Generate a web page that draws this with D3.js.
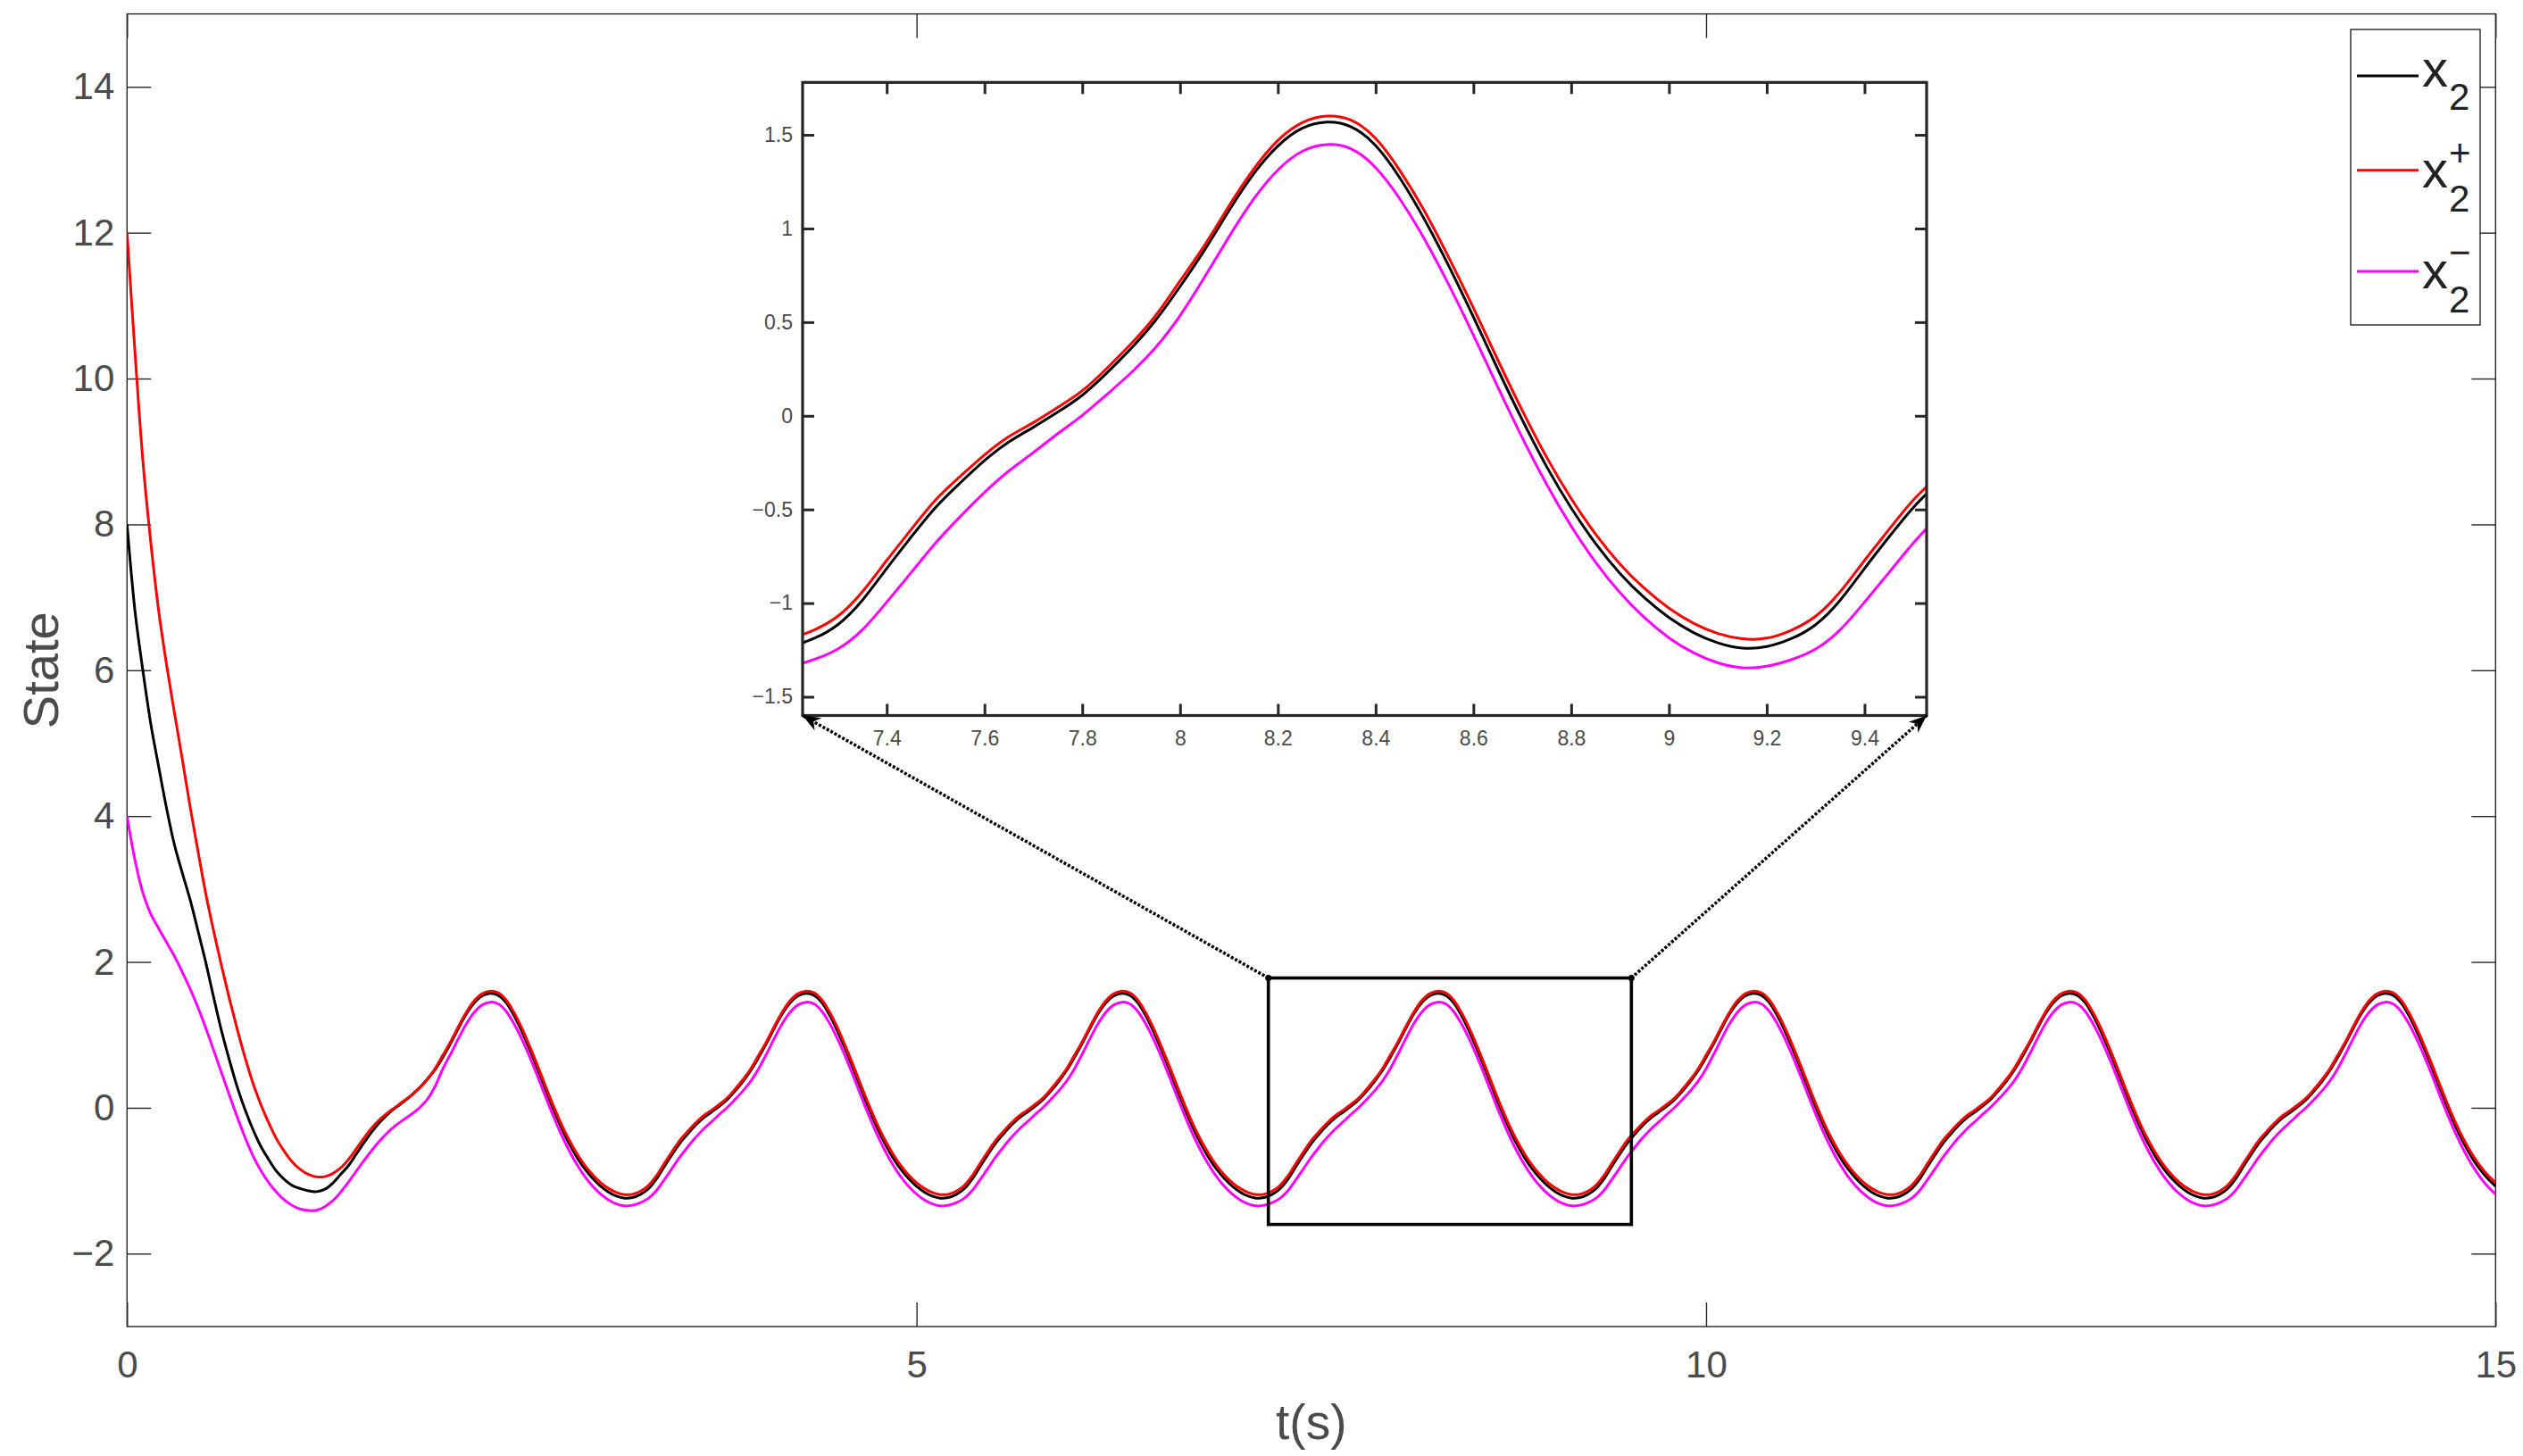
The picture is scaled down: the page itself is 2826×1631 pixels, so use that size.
<!DOCTYPE html>
<html>
<head>
<meta charset="utf-8">
<script src="https://cdn.jsdelivr.net/npm/d3@7"></script>
<style>
  body { margin: 0; background: #ffffff; }
  svg { display: block; }
  text { font-family: "Liberation Sans", Arial, Helvetica, sans-serif; }
</style>
</head>
<body>
<svg id="chart" width="2826" height="1631"></svg>
<script>
// ---------------- DATA ----------------
// sample spacing of the series below (s), starting at t = 0
const sampleStep = 0.05;

// x2 (black)
const x2 = [
  8.0, 6.82, 6.0, 5.27, 4.68, 4.11, 3.61, 3.22, 2.85, 2.42, 1.98, 1.50, 1.04, 0.64, 0.27, -0.04, -0.31, -0.54, -0.72, -0.88,
  -0.99, -1.07, -1.11, -1.14, -1.15, -1.12, -1.04, -0.92, -0.80, -0.64, -0.48, -0.33, -0.20, -0.09, 0.00, 0.08, 0.17, 0.27, 0.39, 0.52,
  0.69, 0.885, 1.095, 1.29, 1.44, 1.535, 1.568, 1.543, 1.443, 1.268, 1.048, 0.798, 0.528, 0.248, -0.022, -0.272, -0.492, -0.682, -0.842, -0.972,
  -1.077, -1.157, -1.212, -1.24, -1.232, -1.19, -1.115, -0.985, -0.815, -0.647, -0.489, -0.359, -0.239, -0.139, -0.061, 0.02, 0.11, 0.228, 0.36, 0.51,
  0.69, 0.885, 1.095, 1.29, 1.44, 1.535, 1.568, 1.543, 1.443, 1.268, 1.048, 0.798, 0.528, 0.248, -0.022, -0.272, -0.492, -0.682, -0.842, -0.972,
  -1.077, -1.157, -1.212, -1.24, -1.232, -1.19, -1.115, -0.985, -0.815, -0.647, -0.489, -0.359, -0.239, -0.139, -0.061, 0.02, 0.11, 0.228, 0.36, 0.51,
  0.69, 0.885, 1.095, 1.29, 1.44, 1.535, 1.568, 1.543, 1.443, 1.268, 1.048, 0.798, 0.528, 0.248, -0.022, -0.272, -0.492, -0.682, -0.842, -0.972,
  -1.077, -1.157, -1.212, -1.24, -1.232, -1.19, -1.115, -0.985, -0.815, -0.647, -0.489, -0.359, -0.239, -0.139, -0.061, 0.02, 0.11, 0.228, 0.36, 0.51,
  0.69, 0.885, 1.095, 1.29, 1.44, 1.535, 1.568, 1.543, 1.443, 1.268, 1.048, 0.798, 0.528, 0.248, -0.022, -0.272, -0.492, -0.682, -0.842, -0.972,
  -1.077, -1.157, -1.212, -1.24, -1.232, -1.19, -1.115, -0.985, -0.815, -0.647, -0.489, -0.359, -0.239, -0.139, -0.061, 0.02, 0.11, 0.228, 0.36, 0.51,
  0.69, 0.885, 1.095, 1.29, 1.44, 1.535, 1.568, 1.543, 1.443, 1.268, 1.048, 0.798, 0.528, 0.248, -0.022, -0.272, -0.492, -0.682, -0.842, -0.972,
  -1.077, -1.157, -1.212, -1.24, -1.232, -1.19, -1.115, -0.985, -0.815, -0.647, -0.489, -0.359, -0.239, -0.139, -0.061, 0.02, 0.11, 0.228, 0.36, 0.51,
  0.69, 0.885, 1.095, 1.29, 1.44, 1.535, 1.568, 1.543, 1.443, 1.268, 1.048, 0.798, 0.528, 0.248, -0.022, -0.272, -0.492, -0.682, -0.842, -0.972,
  -1.077, -1.157, -1.212, -1.24, -1.232, -1.19, -1.115, -0.985, -0.815, -0.647, -0.489, -0.359, -0.239, -0.139, -0.061, 0.02, 0.11, 0.228, 0.36, 0.51,
  0.69, 0.885, 1.095, 1.29, 1.44, 1.535, 1.568, 1.543, 1.443, 1.268, 1.048, 0.798, 0.528, 0.248, -0.022, -0.272, -0.492, -0.682, -0.842, -0.972,
  -1.077
];

// x2+ (red)
const x2Plus = [
  12.0, 10.37, 8.88, 7.76, 6.82, 6.08, 5.42, 4.78, 4.12, 3.51, 2.92, 2.41, 1.93, 1.48, 1.06, 0.67, 0.32, 0.03, -0.22, -0.44,
  -0.61, -0.75, -0.85, -0.915, -0.948, -0.945, -0.905, -0.83, -0.715, -0.57, -0.415, -0.275, -0.16, -0.07, 0.01, 0.09, 0.17, 0.265, 0.385, 0.535,
  0.72, 0.91, 1.12, 1.315, 1.47, 1.565, 1.60, 1.578, 1.481, 1.308, 1.093, 0.843, 0.576, 0.298, 0.028, -0.222, -0.442, -0.632, -0.792, -0.922,
  -1.027, -1.107, -1.162, -1.19, -1.187, -1.145, -1.07, -0.94, -0.772, -0.607, -0.449, -0.324, -0.209, -0.111, -0.036, 0.045, 0.134, 0.253, 0.385, 0.535,
  0.72, 0.91, 1.12, 1.315, 1.47, 1.565, 1.60, 1.578, 1.481, 1.308, 1.093, 0.843, 0.576, 0.298, 0.028, -0.222, -0.442, -0.632, -0.792, -0.922,
  -1.027, -1.107, -1.162, -1.19, -1.187, -1.145, -1.07, -0.94, -0.772, -0.607, -0.449, -0.324, -0.209, -0.111, -0.036, 0.045, 0.134, 0.253, 0.385, 0.535,
  0.72, 0.91, 1.12, 1.315, 1.47, 1.565, 1.60, 1.578, 1.481, 1.308, 1.093, 0.843, 0.576, 0.298, 0.028, -0.222, -0.442, -0.632, -0.792, -0.922,
  -1.027, -1.107, -1.162, -1.19, -1.187, -1.145, -1.07, -0.94, -0.772, -0.607, -0.449, -0.324, -0.209, -0.111, -0.036, 0.045, 0.134, 0.253, 0.385, 0.535,
  0.72, 0.91, 1.12, 1.315, 1.47, 1.565, 1.60, 1.578, 1.481, 1.308, 1.093, 0.843, 0.576, 0.298, 0.028, -0.222, -0.442, -0.632, -0.792, -0.922,
  -1.027, -1.107, -1.162, -1.19, -1.187, -1.145, -1.07, -0.94, -0.772, -0.607, -0.449, -0.324, -0.209, -0.111, -0.036, 0.045, 0.134, 0.253, 0.385, 0.535,
  0.72, 0.91, 1.12, 1.315, 1.47, 1.565, 1.60, 1.578, 1.481, 1.308, 1.093, 0.843, 0.576, 0.298, 0.028, -0.222, -0.442, -0.632, -0.792, -0.922,
  -1.027, -1.107, -1.162, -1.19, -1.187, -1.145, -1.07, -0.94, -0.772, -0.607, -0.449, -0.324, -0.209, -0.111, -0.036, 0.045, 0.134, 0.253, 0.385, 0.535,
  0.72, 0.91, 1.12, 1.315, 1.47, 1.565, 1.60, 1.578, 1.481, 1.308, 1.093, 0.843, 0.576, 0.298, 0.028, -0.222, -0.442, -0.632, -0.792, -0.922,
  -1.027, -1.107, -1.162, -1.19, -1.187, -1.145, -1.07, -0.94, -0.772, -0.607, -0.449, -0.324, -0.209, -0.111, -0.036, 0.045, 0.134, 0.253, 0.385, 0.535,
  0.72, 0.91, 1.12, 1.315, 1.47, 1.565, 1.60, 1.578, 1.481, 1.308, 1.093, 0.843, 0.576, 0.298, 0.028, -0.222, -0.442, -0.632, -0.792, -0.922,
  -1.027
];

// x2- (magenta)
const x2Minus = [
  4.0, 3.40, 2.95, 2.66, 2.46, 2.27, 2.08, 1.86, 1.63, 1.37, 1.085, 0.78, 0.47, 0.16, -0.14, -0.42, -0.67, -0.87, -1.035, -1.168,
  -1.27, -1.345, -1.39, -1.41, -1.405, -1.36, -1.28, -1.165, -1.025, -0.875, -0.725, -0.585, -0.455, -0.34, -0.245, -0.165, -0.09, -0.005, 0.11, 0.29,
  0.535, 0.74, 0.955, 1.155, 1.312, 1.412, 1.448, 1.425, 1.325, 1.156, 0.943, 0.698, 0.431, 0.153, -0.117, -0.367, -0.589, -0.782, -0.945, -1.078,
  -1.185, -1.265, -1.319, -1.345, -1.337, -1.302, -1.245, -1.143, -0.995, -0.837, -0.679, -0.539, -0.409, -0.294, -0.196, -0.095, 0.002, 0.113, 0.23, 0.365,
  0.535, 0.74, 0.955, 1.155, 1.312, 1.412, 1.448, 1.425, 1.325, 1.156, 0.943, 0.698, 0.431, 0.153, -0.117, -0.367, -0.589, -0.782, -0.945, -1.078,
  -1.185, -1.265, -1.319, -1.345, -1.337, -1.302, -1.245, -1.143, -0.995, -0.837, -0.679, -0.539, -0.409, -0.294, -0.196, -0.095, 0.002, 0.113, 0.23, 0.365,
  0.535, 0.74, 0.955, 1.155, 1.312, 1.412, 1.448, 1.425, 1.325, 1.156, 0.943, 0.698, 0.431, 0.153, -0.117, -0.367, -0.589, -0.782, -0.945, -1.078,
  -1.185, -1.265, -1.319, -1.345, -1.337, -1.302, -1.245, -1.143, -0.995, -0.837, -0.679, -0.539, -0.409, -0.294, -0.196, -0.095, 0.002, 0.113, 0.23, 0.365,
  0.535, 0.74, 0.955, 1.155, 1.312, 1.412, 1.448, 1.425, 1.325, 1.156, 0.943, 0.698, 0.431, 0.153, -0.117, -0.367, -0.589, -0.782, -0.945, -1.078,
  -1.185, -1.265, -1.319, -1.345, -1.337, -1.302, -1.245, -1.143, -0.995, -0.837, -0.679, -0.539, -0.409, -0.294, -0.196, -0.095, 0.002, 0.113, 0.23, 0.365,
  0.535, 0.74, 0.955, 1.155, 1.312, 1.412, 1.448, 1.425, 1.325, 1.156, 0.943, 0.698, 0.431, 0.153, -0.117, -0.367, -0.589, -0.782, -0.945, -1.078,
  -1.185, -1.265, -1.319, -1.345, -1.337, -1.302, -1.245, -1.143, -0.995, -0.837, -0.679, -0.539, -0.409, -0.294, -0.196, -0.095, 0.002, 0.113, 0.23, 0.365,
  0.535, 0.74, 0.955, 1.155, 1.312, 1.412, 1.448, 1.425, 1.325, 1.156, 0.943, 0.698, 0.431, 0.153, -0.117, -0.367, -0.589, -0.782, -0.945, -1.078,
  -1.185, -1.265, -1.319, -1.345, -1.337, -1.302, -1.245, -1.143, -0.995, -0.837, -0.679, -0.539, -0.409, -0.294, -0.196, -0.095, 0.002, 0.113, 0.23, 0.365,
  0.535, 0.74, 0.955, 1.155, 1.312, 1.412, 1.448, 1.425, 1.325, 1.156, 0.943, 0.698, 0.431, 0.153, -0.117, -0.367, -0.589, -0.782, -0.945, -1.078,
  -1.185
];

const seriesNames  = ["x2", "x2+", "x2-"];
const seriesColors = ["#000000", "#ff0000", "#ff00ff"];
const legendBase = ["x", "x", "x"];
const legendSub  = ["2", "2", "2"];
const legendSup  = ["", "+", "\u2212"];

const xDomain = [0, 15];
const yDomain = [-3, 15];
const xTicks = [0, 5, 10, 15];
const yTicks = [-2, 0, 2, 4, 6, 8, 10, 12, 14];
const xLabel = "t(s)";
const yLabel = "State";

// zoom window shown in the inset
const zoomT = [7.228, 9.527];
const zoomV = [-1.6, 1.78];
const insetXTicks = [7.4, 7.6, 7.8, 8, 8.2, 8.4, 8.6, 8.8, 9, 9.2, 9.4];
const insetYTicks = [-1.5, -1, -0.5, 0, 0.5, 1, 1.5];

// ---------------- LAYOUT ----------------
const M = { left: 142.3, right: 2795.3, top: 15.6, bottom: 1486 };
const I = { left: 899, right: 2158, top: 92.3, bottom: 801.5 };
const axisColor = "#262626";
const labelColor = "#4b4b4b";
const fontFam = '"Liberation Sans", Arial, Helvetica, sans-serif';

const svg = d3.select("#chart");
svg.append("rect").attr("width", 2826).attr("height", 1631).attr("fill", "#ffffff");

const times = x2.map((_, i) => +(i * sampleStep).toFixed(2));
const allSeries = [x2, x2Plus, x2Minus].map((vals, k) => ({
  name: seriesNames[k], color: seriesColors[k],
  pts: vals.map((v, i) => [times[i], v])
}));

const fmt = d => String(d).replace("-", "\u2212");

// ---------------- MAIN AXES ----------------
const xs = d3.scaleLinear().domain(xDomain).range([M.left, M.right]);
const ys = d3.scaleLinear().domain(yDomain).range([M.bottom, M.top]);

svg.append("defs").append("clipPath").attr("id", "mainClip")
  .append("rect").attr("x", M.left).attr("y", M.top)
  .attr("width", M.right - M.left).attr("height", M.bottom - M.top);

function styleAxis(g, fontSize, strokeW) {
  g.attr("font-family", fontFam).attr("font-size", fontSize);
  g.select(".domain").remove();
  g.selectAll(".tick line").attr("stroke", axisColor).attr("stroke-width", strokeW);
  g.selectAll(".tick text").attr("fill", labelColor);
}

const TL = 27;
svg.append("g").attr("transform", `translate(0,${M.bottom})`)
  .call(d3.axisBottom(xs).tickValues(xTicks).tickSize(-TL).tickSizeOuter(0).tickPadding(27).tickFormat(fmt))
  .call(g => styleAxis(g, 42, 1.4));
svg.append("g").attr("transform", `translate(0,${M.top})`)
  .call(d3.axisTop(xs).tickValues(xTicks).tickSize(-TL).tickSizeOuter(0).tickFormat(""))
  .call(g => styleAxis(g, 42, 1.4));
svg.append("g").attr("transform", `translate(${M.left},0)`)
  .call(d3.axisLeft(ys).tickValues(yTicks).tickSize(-TL).tickSizeOuter(0).tickPadding(14).tickFormat(fmt))
  .call(g => styleAxis(g, 42, 1.4));
svg.append("g").attr("transform", `translate(${M.right},0)`)
  .call(d3.axisRight(ys).tickValues(yTicks).tickSize(-TL).tickSizeOuter(0).tickFormat(""))
  .call(g => styleAxis(g, 42, 1.4));

svg.append("rect").attr("x", M.left).attr("y", M.top)
  .attr("width", M.right - M.left).attr("height", M.bottom - M.top)
  .attr("fill", "none").attr("stroke", axisColor).attr("stroke-width", 1.4);

svg.append("text").attr("x", (M.left + M.right) / 2).attr("y", 1612)
  .attr("text-anchor", "middle").attr("font-size", 55).attr("fill", labelColor).text(xLabel);
svg.append("text").attr("transform", `translate(65,${(M.top + M.bottom) / 2}) rotate(-90)`)
  .attr("text-anchor", "middle").attr("font-size", 56).attr("fill", labelColor).text(yLabel);

// ---------------- MAIN CURVES ----------------
const mainLine = d3.line().x(d => xs(d[0])).y(d => ys(d[1])).curve(d3.curveCatmullRom.alpha(0.5));
const mg = svg.append("g").attr("clip-path", "url(#mainClip)");
allSeries.forEach(s => {
  mg.append("path").attr("d", mainLine(s.pts)).attr("fill", "none")
    .attr("stroke", s.color).attr("stroke-width", 3).attr("stroke-linejoin", "round");
});

// zoom rectangle in main axes
const rx0 = xs(zoomT[0]), rx1 = xs(zoomT[1]), ry0 = ys(zoomV[1]), ry1 = ys(zoomV[0]);
svg.append("rect").attr("x", rx0).attr("y", ry0).attr("width", rx1 - rx0).attr("height", ry1 - ry0)
  .attr("fill", "none").attr("stroke", "#000").attr("stroke-width", 3.6);

// ---------------- INSET ----------------
const ixs = d3.scaleLinear().domain(zoomT).range([I.left, I.right]);
const iys = d3.scaleLinear().domain(zoomV).range([I.bottom, I.top]);

svg.append("rect").attr("x", I.left).attr("y", I.top)
  .attr("width", I.right - I.left).attr("height", I.bottom - I.top).attr("fill", "#ffffff");

svg.select("defs").append("clipPath").attr("id", "insetClip")
  .append("rect").attr("x", I.left).attr("y", I.top)
  .attr("width", I.right - I.left).attr("height", I.bottom - I.top);

const insetLine = d3.line().x(d => ixs(d[0])).y(d => iys(d[1])).curve(d3.curveNatural);
const ig = svg.append("g").attr("clip-path", "url(#insetClip)");
allSeries.forEach(s => {
  const pts = s.pts.filter(p => p[0] >= zoomT[0] - 0.15 && p[0] <= zoomT[1] + 0.15);
  ig.append("path").attr("d", insetLine(pts)).attr("fill", "none")
    .attr("stroke", s.color).attr("stroke-width", 3).attr("stroke-linejoin", "round");
});

const ITL = 13;
svg.append("g").attr("transform", `translate(0,${I.bottom})`)
  .call(d3.axisBottom(ixs).tickValues(insetXTicks).tickSize(-ITL).tickSizeOuter(0).tickPadding(17).tickFormat(fmt))
  .call(g => styleAxis(g, 23, 3));
svg.append("g").attr("transform", `translate(0,${I.top})`)
  .call(d3.axisTop(ixs).tickValues(insetXTicks).tickSize(-ITL).tickSizeOuter(0).tickFormat(""))
  .call(g => styleAxis(g, 23, 3));
svg.append("g").attr("transform", `translate(${I.left},0)`)
  .call(d3.axisLeft(iys).tickValues(insetYTicks).tickSize(-ITL).tickSizeOuter(0).tickPadding(11).tickFormat(fmt))
  .call(g => styleAxis(g, 23, 3));
svg.append("g").attr("transform", `translate(${I.right},0)`)
  .call(d3.axisRight(iys).tickValues(insetYTicks).tickSize(-ITL).tickSizeOuter(0).tickFormat(""))
  .call(g => styleAxis(g, 23, 3));

svg.append("rect").attr("x", I.left).attr("y", I.top)
  .attr("width", I.right - I.left).attr("height", I.bottom - I.top)
  .attr("fill", "none").attr("stroke", axisColor).attr("stroke-width", 3.2);

// ---------------- ARROWS ----------------
function arrow(x0, y0, x1, y1) {
  svg.append("line").attr("x1", x0).attr("y1", y0).attr("x2", x1).attr("y2", y1)
    .attr("stroke", "#000").attr("stroke-width", 3.5).attr("stroke-dasharray", "3,2");
  svg.append("circle").attr("cx", x0).attr("cy", y0).attr("r", 3.5).attr("fill", "#000");
  const dx = x1 - x0, dy = y1 - y0, L = Math.hypot(dx, dy);
  const ux = dx / L, uy = dy / L, px = -uy, py = ux;
  const len = 20, wid = 8, back = 14;
  const pts = [
    [x1, y1],
    [x1 - ux * len + px * wid, y1 - uy * len + py * wid],
    [x1 - ux * back, y1 - uy * back],
    [x1 - ux * len - px * wid, y1 - uy * len - py * wid]
  ];
  svg.append("polygon").attr("points", pts.map(p => p.join(",")).join(" ")).attr("fill", "#000");
}
arrow(rx0, ry0, I.left, I.bottom);
arrow(rx1, ry0, I.right, I.bottom);

// ---------------- LEGEND ----------------
const LG = { x: 2633, y: 33, w: 145, h: 331 };
svg.append("rect").attr("x", LG.x).attr("y", LG.y).attr("width", LG.w).attr("height", LG.h)
  .attr("fill", "#ffffff").attr("stroke", axisColor).attr("stroke-width", 1.4);
const lineY = [85, 190.7, 304];
const baseY = [96.7, 210, 323.3];
const subY  = [123.3, 236.7, 350];
const supY  = [0, 186, 297];
seriesNames.forEach((n, k) => {
  svg.append("line").attr("x1", 2640).attr("x2", 2709).attr("y1", lineY[k]).attr("y2", lineY[k])
    .attr("stroke", seriesColors[k]).attr("stroke-width", 3);
  svg.append("text").attr("x", 2713).attr("y", baseY[k]).attr("font-size", 58).attr("fill", "#222")
    .text(legendBase[k]);
  svg.append("text").attr("x", 2743).attr("y", subY[k]).attr("font-size", 42).attr("fill", "#222")
    .text(legendSub[k]);
  if (legendSup[k]) {
    svg.append("text").attr("x", 2743).attr("y", supY[k]).attr("font-size", 42).attr("fill", "#222")
      .text(legendSup[k]);
  }
});
</script>
</body>
</html>
